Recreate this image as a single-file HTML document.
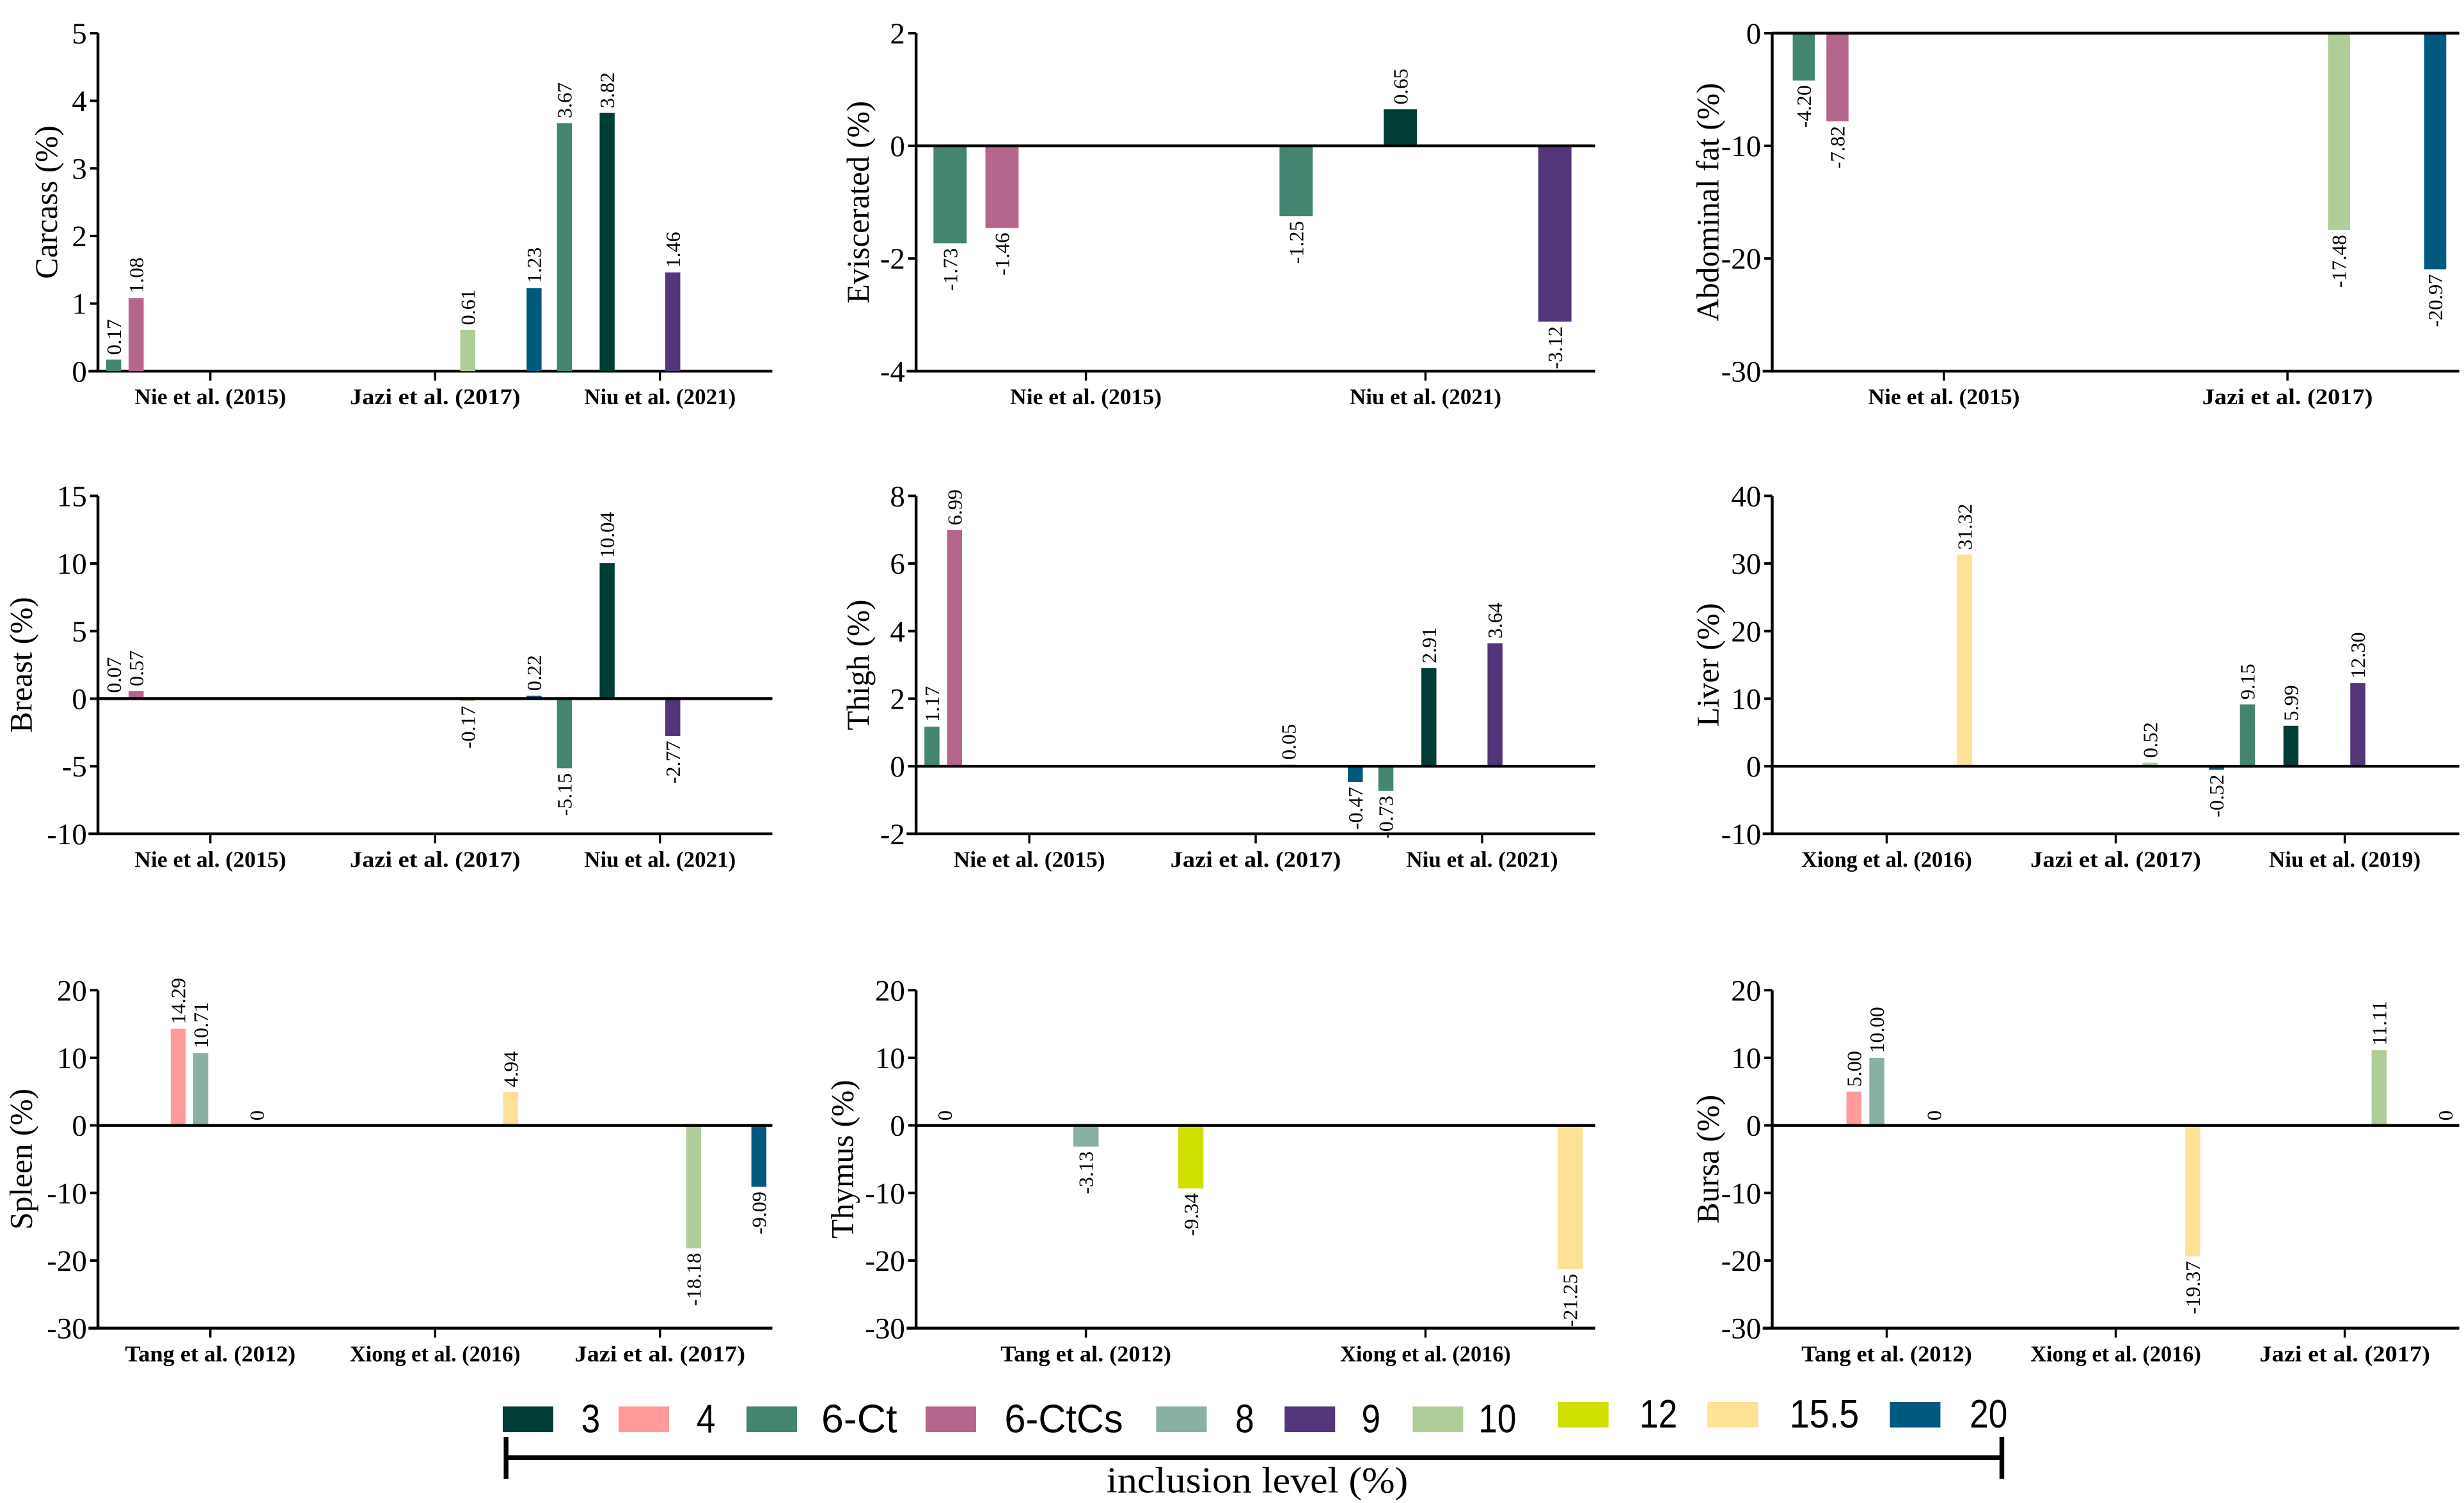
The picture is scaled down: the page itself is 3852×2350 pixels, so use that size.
<!DOCTYPE html>
<html><head><meta charset="utf-8"><style>
html,body{margin:0;padding:0;background:#fff;}
svg{display:block;}
</style></head><body>
<svg id="fig" xmlns="http://www.w3.org/2000/svg" width="3852" height="2350" viewBox="0 0 1560 951.7">
<rect x="0" y="0" width="1560" height="951.7" fill="#fff"/>
<g id="panels"></g>
<g id="legend"></g>
</svg>
<script>
const seriesNames = ["3","4","6-Ct","6-CtCs","8","9","10","12","15.5","20"];
const seriesColors = ["#003d36","#ff9b9b","#448572","#b5668c","#88b0a5","#53367a","#aecd98","#cfe000","#fde196","#005a80"];

const panelTitles = ["Carcass (%)","Eviscerated (%)","Abdominal fat (%)","Breast (%)","Thigh (%)","Liver (%)","Spleen (%)","Thymus (%)","Bursa (%)"];
const panelGroups = [
 ["Nie et al. (2015)","Jazi et al. (2017)","Niu et al. (2021)"],
 ["Nie et al. (2015)","Niu et al. (2021)"],
 ["Nie et al. (2015)","Jazi et al. (2017)"],
 ["Nie et al. (2015)","Jazi et al. (2017)","Niu et al. (2021)"],
 ["Nie et al. (2015)","Jazi et al. (2017)","Niu et al. (2021)"],
 ["Xiong et al. (2016)","Jazi et al. (2017)","Niu et al. (2019)"],
 ["Tang et al. (2012)","Xiong et al. (2016)","Jazi et al. (2017)"],
 ["Tang et al. (2012)","Xiong et al. (2016)"],
 ["Tang et al. (2012)","Xiong et al. (2016)","Jazi et al. (2017)"]
];
const yMins = [0,-4,-30,-10,-2,-10,-30,-30,-30];
const yMaxs = [5,2,0,15,8,40,20,20,20];
const ySteps = [1,2,10,5,2,10,10,10,10];

const barSeries = [
 [2,3,6,9,2,0,5],
 [2,3,2,0,5],
 [2,3,6,9],
 [2,3,6,9,2,0,5],
 [2,3,6,9,2,0,5],
 [8,6,9,2,0,5],
 [1,4,7,8,6,9],
 [1,4,7,8],
 [1,4,7,8,6,9]
];
const barValues = [
 [0.17,1.08,0.61,1.23,3.67,3.82,1.46],
 [-1.73,-1.46,-1.25,0.65,-3.12],
 [-4.20,-7.82,-17.48,-20.97],
 [0.07,0.57,-0.17,0.22,-5.15,10.04,-2.77],
 [1.17,6.99,0.05,-0.47,-0.73,2.91,3.64],
 [31.32,0.52,-0.52,9.15,5.99,12.30],
 [14.29,10.71,0,4.94,-18.18,-9.09],
 [0,-3.13,-9.34,-21.25],
 [5.00,10.00,0,-19.37,11.11,0]
];
const barLabels = [
 ["0.17","1.08","0.61","1.23","3.67","3.82","1.46"],
 ["-1.73","-1.46","-1.25","0.65","-3.12"],
 ["-4.20","-7.82","-17.48","-20.97"],
 ["0.07","0.57","-0.17","0.22","-5.15","10.04","-2.77"],
 ["1.17","6.99","0.05","-0.47","-0.73","2.91","3.64"],
 ["31.32","0.52","-0.52","9.15","5.99","12.30"],
 ["14.29","10.71","0","4.94","-18.18","-9.09"],
 ["0","-3.13","-9.34","-21.25"],
 ["5.00","10.00","0","-19.37","11.11","0"]
];
const barGroups = [
 [0,0,1,1,2,2,2],
 [0,0,1,1,1],
 [0,0,1,1],
 [0,0,1,1,2,2,2],
 [0,0,1,1,2,2,2],
 [0,1,1,2,2,2],
 [0,0,0,1,2,2],
 [0,0,0,1],
 [0,0,0,1,2,2]
];
const barSlots = [
 [-4.3,-3.3,1.45,4.4,-4.25,-2.35,0.57],
 [-4.0,-2.47,-3.81,-0.74,3.81],
 [-4.08,-3.1,1.5,4.3],
 [-4.3,-3.3,1.45,4.4,-4.25,-2.35,0.57],
 [-4.3,-3.3,1.45,4.4,-4.25,-2.35,0.57],
 [3.4,1.5,4.4,-4.25,-2.35,0.57],
 [-1.43,-0.43,2.07,3.36,1.5,4.4],
 [-4.16,0,3.09,4.26],
 [-1.43,-0.43,2.07,3.36,1.5,4.4]
];

const NS = "http://www.w3.org/2000/svg";
function mk(tag, attrs, parent){
  const e = document.createElementNS(NS, tag);
  for (const k in attrs) e.setAttribute(k, attrs[k]);
  if (parent) parent.appendChild(e);
  return e;
}
const colX0 = [62,580,1122];
const colX1 = [489,1010,1557];
const rowTop = [21,314,627];
const plotH = 214;
const barWidths = [9.5,21,14,9.5,9.5,9.5,9.5,16,9.5];
const titleOffsets = [-33,-37,-41,-49,-37,-41,-49,-47,-41];
const serif = '"Liberation Serif", serif';
const panelsG = document.getElementById('panels');

for (let p = 0; p < 9; p++) {
  const col = p % 3, row = Math.floor(p / 3);
  const x0 = colX0[col], x1 = colX1[col], top = rowTop[row], bot = top + plotH;
  const ymin = yMins[p], ymax = yMaxs[p];
  const yScale = v => bot - (v - ymin) / (ymax - ymin) * plotH;
  const ng = panelGroups[p].length;
  const gw = (x1 - x0) / ng;
  const slotW = gw / 10;
  const gCenter = g => x0 + (g + 0.5) * gw;
  const g = mk('g', {}, panelsG);
  
  

  const ya = mk('line', {x1:x0, y1:top, x2:x0, y2:bot, stroke:'#000','stroke-width':1.8}, g);
  
  
  for (let v = ymin; v <= ymax + 1e-9; v += ySteps[p]) {
    const y = yScale(v);
    mk('line', {x1:x0-5, y1:y, x2:x0, y2:y, stroke:'#000','stroke-width':1.6}, g);
    const t = mk('text', {x:x0-7, y:y+6.5, 'text-anchor':'end','font-family':serif,'font-size':19,fill:'#000'}, g);
    t.textContent = String(v);
    
    
  }
  const yt = mk('text', {x:0, y:0, transform:`translate(${x0+titleOffsets[p]+7},${top+plotH/2}) rotate(-90)`, 'text-anchor':'middle','font-family':serif,'font-size':20,fill:'#000'}, g);
  yt.textContent = panelTitles[p];
  
  

  const xa = mk('line', {x1:x0-6, y1:bot, x2:x1, y2:bot, stroke:'#000','stroke-width':1.8}, g);
  
  
  for (let i = 0; i < ng; i++) {
    const cx = gCenter(i);
    mk('line', {x1:cx, y1:bot, x2:cx, y2:bot+6, stroke:'#000','stroke-width':1.4}, g);
    const t = mk('text', {x:cx, y:bot+21, 'text-anchor':'middle','font-family':serif,'font-size':14,'font-weight':'bold',fill:'#000'}, g);
    t.textContent = panelGroups[p][i];
    t.setAttribute('textLength', panelGroups[p][i].length > 17 ? 108 : 96);
    t.setAttribute('lengthAdjust', 'spacingAndGlyphs');
    
    
  }
  const y0 = yScale(0);
  const bw = barWidths[p];
  for (let i = 0; i < barValues[p].length; i++) {
    const v = barValues[p][i];
    const cx = gCenter(barGroups[p][i]) + barSlots[p][i] * slotW;
    const yv = yScale(v);
    const r = mk('rect', {x:cx-bw/2, y:Math.min(yv,y0), width:bw, height:Math.abs(yv-y0), fill:seriesColors[barSeries[p][i]]}, g);
    
    
    const neg = v < 0;
    const ly = neg ? yv + 3 : yv - 3;
    const lab = mk('text', {x:0, y:0, transform:`translate(${cx+4.5},${ly}) rotate(-90)`, 'text-anchor': neg ? 'end' : 'start','font-family':serif,'font-size':13,fill:'#000'}, g);
    lab.textContent = barLabels[p][i];
    
    
  }
  if (ymin < 0) {
    const zl = mk('line', {x1:x0, y1:y0, x2:x1, y2:y0, stroke:'#000','stroke-width':1.8}, g);
    
    
  }
}

const legendBoxX = [318.3,391.6,472.6,586,732,813.3,894.4,986.4,1081,1196.5];
const legendTextX = [374,447,544,673.5,788,868,948,1050,1155,1259];
const legendTextW = [12,12,48,75,12,12,24,24,44,24];
const lg = document.getElementById('legend');
for (let i = 0; i < seriesNames.length; i++) {
  const yb = (i >= 7) ? 887.7 : 890.6;
  const b = mk('rect', {x:legendBoxX[i], y:yb, width:32, height:16.2, fill:seriesColors[i]}, lg);
  
  
  const t = mk('text', {x:legendTextX[i], y:(i>=7?904:907), 'text-anchor':'middle','font-family':'"Liberation Sans", sans-serif','font-size':25,fill:'#000'}, lg);
  t.textContent = seriesNames[i];
  t.setAttribute('textLength', legendTextW[i]);
  t.setAttribute('lengthAdjust', 'spacingAndGlyphs');
  
  
}
const br = mk('path', {d:'M320.4,910 V936.4 M320.4,923 H1267.4 M1267.4,910 V936.4', stroke:'#000','stroke-width':3, fill:'none'}, lg);


const lt = mk('text', {x:796, y:945, 'text-anchor':'middle','font-family':serif,'font-size':23,fill:'#000','textLength':191,'lengthAdjust':'spacingAndGlyphs'}, lg);
lt.textContent = 'inclusion level (%)';


</script>
</body></html>
